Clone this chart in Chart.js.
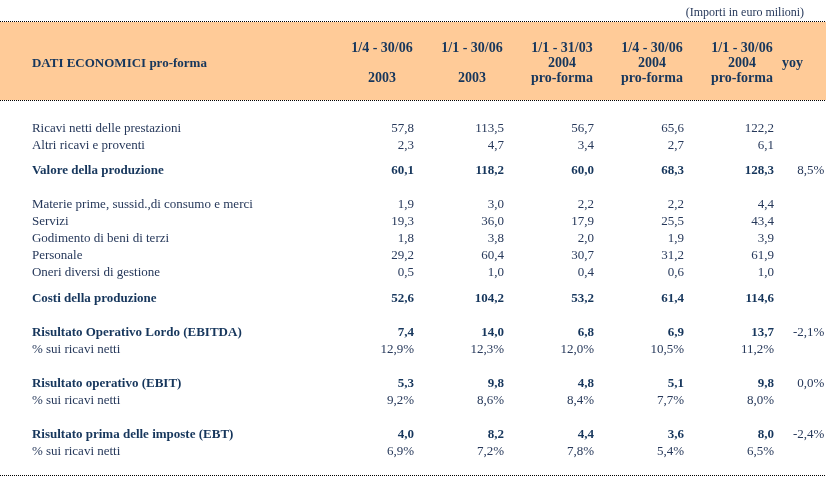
<!DOCTYPE html>
<html>
<head>
<meta charset="utf-8">
<script src="https://cdn.jsdelivr.net/npm/chart.js@4/dist/chart.umd.min.js"></script>
<style>
  body { margin: 0; background: #fff; }
  #wrap { width: 826px; height: 493px; }
</style>
</head>
<body>
<div id="wrap"><canvas id="tbl" width="826" height="493"></canvas></div>
<script>
// column headings (3 lines each)
const colHeads = [
    ['1/4 - 30/06', '', '2003'],
    ['1/1 - 30/06', '', '2003'],
    ['1/1 - 31/03', '2004', 'pro-forma'],
    ['1/4 - 30/06', '2004', 'pro-forma'],
    ['1/1 - 30/06', '2004', 'pro-forma'],
    ['', 'yoy', '']
];
const titleText = 'DATI ECONOMICI pro-forma';
const unitNote = '(Importi in euro milioni)';

// row labels
const rowLabels = [
    'Ricavi netti delle prestazioni',
    'Altri ricavi e proventi',
    'Valore della produzione',
    'Materie prime, sussid.,di consumo e merci',
    'Servizi',
    'Godimento di beni di terzi',
    'Personale',
    'Oneri diversi di gestione',
    'Costi della produzione',
    'Risultato Operativo Lordo (EBITDA)',
    '% sui ricavi netti',
    'Risultato operativo (EBIT)',
    '% sui ricavi netti',
    'Risultato prima delle imposte (EBT)',
    '% sui ricavi netti'
];
const boldRows = [2, 8, 9, 11, 13];
const pctRows = [10, 12, 14];

// values per period column
const q2_2003 = [57.8, 2.3, 60.1, 1.9, 19.3, 1.8, 29.2, 0.5, 52.6, 7.4, 12.9, 5.3, 9.2, 4.0, 6.9];
const h1_2003 = [113.5, 4.7, 118.2, 3.0, 36.0, 3.8, 60.4, 1.0, 104.2, 14.0, 12.3, 9.8, 8.6, 8.2, 7.2];
const q1_2004 = [56.7, 3.4, 60.0, 2.2, 17.9, 2.0, 30.7, 0.4, 53.2, 6.8, 12.0, 4.8, 8.4, 4.4, 7.8];
const q2_2004 = [65.6, 2.7, 68.3, 2.2, 25.5, 1.9, 31.2, 0.6, 61.4, 6.9, 10.5, 5.1, 7.7, 3.6, 5.4];
const h1_2004 = [122.2, 6.1, 128.3, 4.4, 43.4, 3.9, 61.9, 1.0, 114.6, 13.7, 11.2, 9.8, 8.0, 8.0, 6.5];
const yoy = [null, null, 8.5, null, null, null, null, null, null, -2.1, null, 0.0, null, -2.4, null];

// layout (in scale units)
const rowPos = [0, 1, 2.5, 4.5, 5.5, 6.5, 7.5, 8.5, 10, 12, 13, 15, 16, 18, 19];
const colPos = [1, 2, 3, 4, 5, 5.56];
const labelX = -2.89;
const headLines = [-4.7, -3.82, -2.94];

const NAVY = '#16365c';
const TEXT = '#26385a';
const SERIF = '"Liberation Serif", "Times New Roman", serif';

const fmt = (v, pct) => v.toFixed(1).replace('.', ',') + (pct ? '%' : '');

const columns = [q2_2003, h1_2003, q1_2004, q2_2004, h1_2004, yoy];

const datasets = columns.map((vals, c) => ({
    label: colHeads[c].join(' ').trim(),
    data: vals.map((v, r) => v === null ? null : { x: colPos[c], y: rowPos[r], v: v, r: r }).filter(p => p),
    pointRadius: 0,
    isYoy: c === 5
}));
datasets.push({
    label: 'labels',
    data: rowLabels.map((t, r) => ({ x: labelX, y: rowPos[r], t: t, r: r })),
    pointRadius: 0,
    isLabel: true
});

function dotted(ctx, y, x0, x1) {
    ctx.fillStyle = '#000';
    for (let x = x0; x < x1; x += 2) ctx.fillRect(x, Math.round(y), 1, 1);
}

const tablePlugin = {
    id: 'tablePlugin',
    beforeDatasetsDraw(chart) {
        const { ctx, scales: { x, y } } = chart;
        const top = y.getPixelForValue(-6.33);
        const bot = y.getPixelForValue(-1.68);
        ctx.save();
        ctx.fillStyle = '#ffcb98';
        ctx.fillRect(0, Math.round(top) + 1, chart.width, Math.round(bot) - Math.round(top) - 1);
        dotted(ctx, top, 0, chart.width);
        dotted(ctx, bot, 0, chart.width);
        dotted(ctx, y.getPixelForValue(20.41), 0, chart.width);

        // unit note
        ctx.font = '12px ' + SERIF;
        ctx.fillStyle = TEXT;
        ctx.textAlign = 'right';
        ctx.textBaseline = 'middle';
        ctx.fillText(unitNote, x.getPixelForValue(5.69), y.getPixelForValue(-6.8));

        // headings
        ctx.font = 'bold 13px ' + SERIF;
        ctx.fillStyle = NAVY;
        ctx.textAlign = 'left';
        ctx.fillText(titleText, x.getPixelForValue(labelX), y.getPixelForValue(headLines[1]));
        ctx.font = 'bold 14px ' + SERIF;
        ctx.textAlign = 'center';
        colHeads.forEach((lines, c) => {
            lines.forEach((t, i) => {
                if (t) ctx.fillText(t, x.getPixelForValue(colPos[c]), y.getPixelForValue(headLines[i]));
            });
        });
        ctx.restore();
    },
    afterDatasetsDraw(chart) {
        const { ctx } = chart;
        ctx.save();
        ctx.textBaseline = 'middle';
        chart.data.datasets.forEach((ds, i) => {
            const meta = chart.getDatasetMeta(i);
            meta.data.forEach((pt, j) => {
                const d = ds.data[j];
                const bold = boldRows.includes(d.r);
                if (ds.isLabel) {
                    ctx.font = (bold ? 'bold ' : '') + '13px ' + SERIF;
                    ctx.fillStyle = bold ? NAVY : TEXT;
                    ctx.textAlign = 'left';
                    ctx.fillText(d.t, pt.x, pt.y);
                } else {
                    const pct = ds.isYoy || pctRows.includes(d.r);
                    const b = bold && !ds.isYoy;
                    ctx.font = (b ? 'bold ' : '') + '13px ' + SERIF;
                    ctx.fillStyle = b ? NAVY : TEXT;
                    ctx.textAlign = 'right';
                    ctx.fillText(fmt(d.v, pct), pt.x + 32, pt.y);
                }
            });
        });
        ctx.restore();
    }
};

new Chart(document.getElementById('tbl'), {
    type: 'scatter',
    data: { datasets: datasets },
    options: {
        responsive: false,
        animation: false,
        layout: { padding: 0 },
        plugins: { legend: { display: false }, tooltip: { enabled: false } },
        scales: {
            x: { type: 'linear', display: false, min: 1 - 382 / 90, max: 1 + 444 / 90 },
            y: { type: 'linear', display: false, reverse: true, min: -128.5 / 17, max: -128.5 / 17 + 493 / 17 }
        }
    },
    plugins: [tablePlugin]
});
</script>
</body>
</html>
